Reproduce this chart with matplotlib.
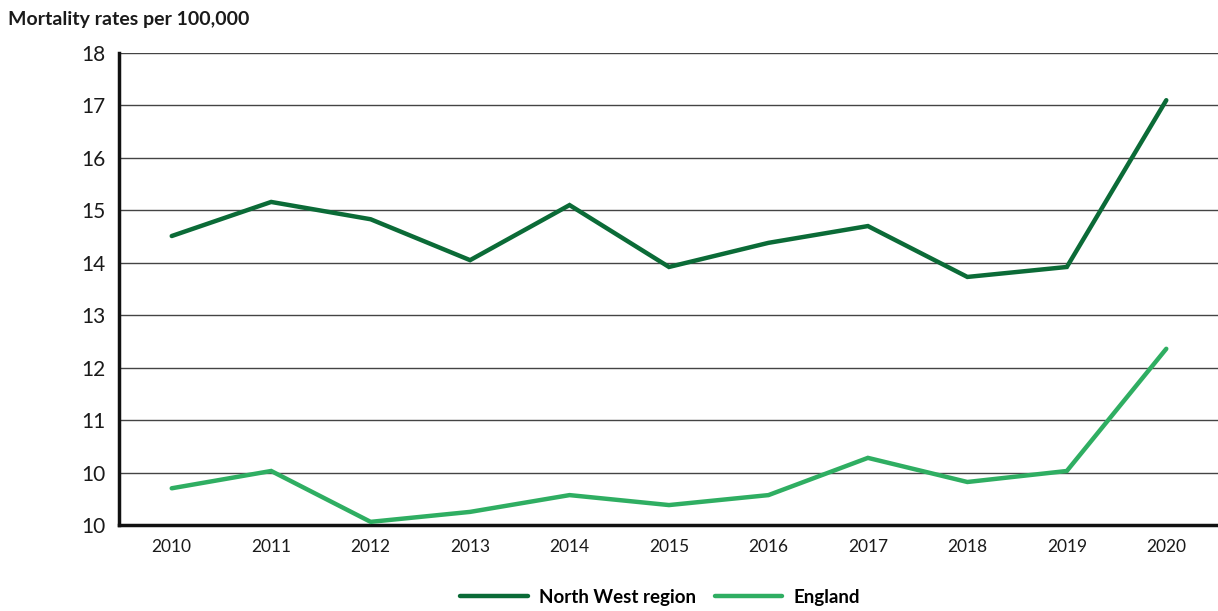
import matplotlib
matplotlib.use("Agg")
import matplotlib.pyplot as plt
from matplotlib.lines import Line2D

years = [2010, 2011, 2012, 2013, 2014, 2015, 2016, 2017, 2018, 2019, 2020]
north_west = [14.51, 15.16, 14.83, 14.05, 15.10, 13.92, 14.38, 14.70, 13.73, 13.92, 17.10]
england = [9.70, 10.03, 9.06, 9.25, 9.57, 9.38, 9.57, 10.28, 9.82, 10.03, 12.36]
y_ticks = [9, 10, 11, 12, 13, 14, 15, 16, 17, 18]
y_tick_labels = ["10", "10", "11", "12", "13", "14", "15", "16", "17", "18"]

plt.rcParams['font.family'] = ['Lato', 'DejaVu Sans']

fig = plt.figure(figsize=(12.18, 6.11), dpi=100)
ax = fig.add_axes([119/1218, 1-525/611, 1-119/1218, (525-53)/611])

nw_color = '#0b6b37'
en_color = '#2fae62'

for y in y_ticks[1:]:
    ax.axhline(y, color='#444444', lw=1.0, zorder=1)

ax.plot(years, north_west, color=nw_color, lw=3.2, solid_capstyle='round', solid_joinstyle='miter', zorder=3)
ax.plot(years, england, color=en_color, lw=3.2, solid_capstyle='round', solid_joinstyle='miter', zorder=3)

ax.set_xlim(2009.47, 2020.52)
ax.set_ylim(9, 18)
ax.set_yticks(y_ticks)
ax.set_yticklabels(y_tick_labels, fontsize=15, fontweight='normal')
ax.set_xticks(years)
ax.set_xticklabels([str(y) for y in years], fontsize=12.5, fontweight='normal')
ax.tick_params(axis='both', length=0, colors='#1a1a1a')
ax.tick_params(axis='y', pad=10)
ax.tick_params(axis='x', pad=10)

for s in ['top', 'right']:
    ax.spines[s].set_visible(False)
ax.spines['left'].set_linewidth(2.5)
ax.spines['bottom'].set_linewidth(2.5)
ax.spines['left'].set_color('#111111')
ax.spines['bottom'].set_color('#111111')

fig.text(8/1218, 1-20/611, "Mortality rates per 100,000", fontsize=14, fontweight='bold',
         color='#1a1a1a', va='center', ha='left')

handles = [Line2D([0], [0], color=nw_color, lw=3.2, solid_capstyle='round'),
           Line2D([0], [0], color=en_color, lw=3.2, solid_capstyle='round')]
fig.legend(handles, ["North West region", "England"], loc='center', bbox_to_anchor=(660/1218, 1-597/611),
           ncol=2, frameon=False, handlelength=3.6, columnspacing=1.0, handletextpad=0.6,
           prop={'weight': 'bold', 'size': 13.5})

fig.savefig("out.png", dpi=100)
